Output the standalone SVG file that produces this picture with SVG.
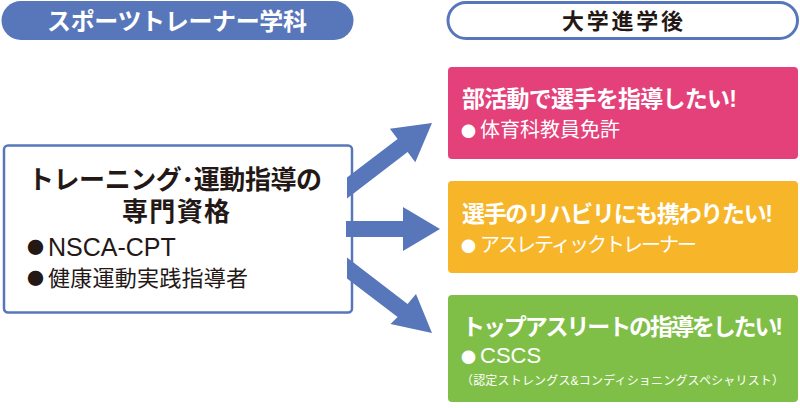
<svg xmlns="http://www.w3.org/2000/svg" width="800" height="408" viewBox="0 0 800 408">
<style>
text{font-family:"Liberation Sans","Noto Sans CJK JP",sans-serif}
.b{font-weight:bold}
.w{fill:#ffffff}
.k{fill:#231815}
.dot{font-family:"Noto Sans CJK JP",sans-serif}
.arrow{fill:#5877bb}
</style>
<rect width="800" height="408" fill="#ffffff"/>
<g id="header-left">
<rect x="1.5" y="1" width="352" height="39" rx="19.5" fill="#5877bb"/>
<text x="47" y="29.5" font-size="24" class="b w" textLength="260">スポーツトレーナー学科</text>
</g>
<g id="header-right">
<rect x="448" y="2.5" width="349.5" height="36" rx="18" fill="#ffffff" stroke="#5877bb" stroke-width="3"/>
<text x="562" y="29" font-size="22" class="b k" textLength="121">大学進学後</text>
</g>
<g id="source">
<rect x="4" y="145.5" width="348" height="167" rx="4" fill="#ffffff" stroke="#5877bb" stroke-width="2.5"/>
<text x="28" y="188.5" font-size="26" class="b k" textLength="294">トレーニング･運動指導の</text>
<text x="122" y="220.5" font-size="26" class="b k" textLength="108">専門資格</text>
<text y="256" font-size="25" class="k"><tspan x="27" y="254" class="dot" font-size="17">●</tspan><tspan x="48" y="256">NSCA-CPT</tspan></text>
<text y="286" font-size="22" class="k"><tspan x="27" y="285" class="dot" font-size="17">●</tspan><tspan x="48" y="286" textLength="200">健康運動実践指導者</tspan></text>
</g>
<g id="connectors">
<polygon class="arrow" points="347,177.6 397.6,138.9 389.9,128.8 432,123 415.3,162.2 407.6,152.1 347,198.4"/>
<polygon class="arrow" points="346,221 403,221 403,207 440,229 403,251 403,237 346,237"/>
<polygon class="arrow" points="347,278.4 397.6,317.1 390.5,324 432,333 416,294 407.6,303.9 347,257.6"/>
</g>
<g id="goal-club">
<rect x="448" y="67" width="350" height="92" rx="4" fill="#e4417a"/>
<text x="462" y="106.5" font-size="23" class="b w" textLength="275">部活動で選手を指導したい!</text>
<text y="137" font-size="20" class="w"><tspan x="461" class="dot" font-size="15">●</tspan><tspan x="480" textLength="140">体育科教員免許</tspan></text>
</g>
<g id="goal-rehab">
<rect x="448" y="181" width="350" height="92" rx="4" fill="#f7b52a"/>
<text x="462" y="221.5" font-size="23" class="b w" textLength="311">選手のリハビリにも携わりたい!</text>
<text y="252" font-size="20" class="w"><tspan x="461" class="dot" font-size="15">●</tspan><tspan x="480" textLength="217">アスレティックトレーナー</tspan></text>
</g>
<g id="goal-top">
<rect x="448" y="295" width="350" height="107" rx="4" fill="#80bf47"/>
<text x="462" y="334.5" font-size="23" class="b w" textLength="321">トップアスリートの指導をしたい!</text>
<text y="363" font-size="22" class="w"><tspan x="461" class="dot" font-size="15">●</tspan><tspan x="480">CSCS</tspan></text>
<text x="461" y="384.5" font-size="12" class="w" textLength="323">（認定ストレングス&amp;コンディショニングスペシャリスト）</text>
</g>
</svg>
